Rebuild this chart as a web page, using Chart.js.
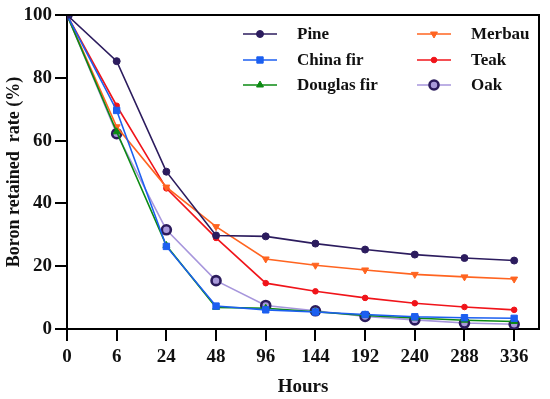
<!DOCTYPE html>
<html>
<head>
<meta charset="utf-8">
<script src="https://cdn.jsdelivr.net/npm/chart.js@4"></script>
<style>
  html, body { margin: 0; padding: 0; background: #fff; }
  #wrap { width: 550px; height: 399px; }
</style>
</head>
<body>
<div id="wrap"><canvas id="chart"></canvas></div>
<script>
// x categories (hours) and retained boron (%) per wood species
const hours      = ['0', '6', '24', '48', '96', '144', '192', '240', '288', '336'];
const pine       = [100, 85.3, 50.1, 29.8, 29.5, 27.2, 25.3, 23.7, 22.6, 21.8];
const chinaFir   = [100, 69.6, 26.3, 7.3, 6.1, 5.4, 4.6, 3.9, 3.6, 3.4];
const douglasFir = [100, 62.8, 26.6, 6.9, 6.6, 5.5, 4.3, 3.5, 2.8, 2.4];
const merbau     = [100, 64.4, 45.2, 32.6, 22.3, 20.3, 18.8, 17.4, 16.6, 15.9];
const teak       = [100, 71.1, 44.8, 29.0, 14.6, 12.0, 9.9, 8.2, 7.0, 6.1];
const oak        = [100, 62.2, 31.6, 15.4, 7.5, 5.8, 4.0, 2.9, 1.9, 1.5];
const yTicks     = [0, 20, 40, 60, 80, 100];

const FONT = "'Liberation Serif', 'Times New Roman', serif";
const TICK_LEN = 12;

const toXY = arr => arr.map((v, i) => ({ x: i, y: v }));

function series(label, data, color, opts) {
  return Object.assign({
    label,
    data: toXY(data),
    borderColor: color,
    backgroundColor: color,
    pointBorderColor: color,
    pointBackgroundColor: color,
    borderWidth: 1.6,
    pointRadius: 3.5,
    pointBorderWidth: 1,
    pointStyle: 'circle',
    pointRotation: 0,
    tension: 0
  }, opts || {});
}

const datasets = [
  series('Pine', pine, '#2c1c5e', { pointRadius: 3.5 }),
  series('China fir', chinaFir, '#1c5ff0', { pointStyle: 'rect', pointRadius: 4.5 }),
  series('Douglas fir', douglasFir, '#0b8a12', { pointStyle: 'triangle', pointRadius: 4 }),
  series('Merbau', merbau, '#ff6420', { pointStyle: 'triangle', pointRotation: 180, pointRadius: 4 }),
  series('Teak', teak, '#f0141a', { pointRadius: 2.8 }),
  series('Oak', oak, '#a796dc', {
    pointRadius: 4.5, pointBorderWidth: 2.6,
    pointBorderColor: '#2b1b5c', pointBackgroundColor: '#a99ada'
  })
];

/* --------- frame: top + right border, outward tick marks --------- */
const framePlugin = {
  id: 'frame',
  afterDraw(chart) {
    const { ctx, chartArea: a } = chart;
    const xs = chart.scales.x, ys = chart.scales.y;
    ctx.save();
    ctx.strokeStyle = '#000';
    ctx.lineWidth = 2;
    ctx.beginPath();
    ctx.moveTo(a.left, a.top);
    ctx.lineTo(a.right, a.top);
    ctx.lineTo(a.right, a.bottom);
    ctx.stroke();
    ctx.fillStyle = '#000';
    hours.forEach((h, i) => {
      const px = Math.round(xs.getPixelForValue(i));
      ctx.fillRect(px - 1, a.bottom, 2, TICK_LEN);
    });
    yTicks.forEach(v => {
      const py = Math.round(ys.getPixelForValue(v));
      ctx.fillRect(a.left - TICK_LEN, py - 1, TICK_LEN, 2);
    });
    ctx.restore();
  }
};

/* --------- two-column legend inside the plot --------- */
const legendPlugin = {
  id: 'colLegend',
  afterDraw(chart) {
    const ctx = chart.ctx;
    const cols = [{ x: 243, tx: 297 }, { x: 417, tx: 471 }];
    const rows = [34, 60, 85];
    ctx.save();
    chart.data.datasets.forEach((ds, i) => {
      const c = cols[Math.floor(i / 3)];
      const y = rows[i % 3];
      ctx.strokeStyle = ds.borderColor;
      ctx.lineWidth = ds.borderWidth;
      ctx.beginPath();
      ctx.moveTo(c.x, y);
      ctx.lineTo(c.x + 34, y);
      ctx.stroke();
      ctx.fillStyle = ds.pointBackgroundColor;
      ctx.strokeStyle = ds.pointBorderColor;
      ctx.lineWidth = ds.pointBorderWidth;
      Chart.helpers.drawPoint(ctx, {
        pointStyle: ds.pointStyle,
        rotation: ds.pointRotation,
        radius: ds.pointRadius,
        borderWidth: ds.pointBorderWidth
      }, c.x + 17, y);
      ctx.fillStyle = '#111';
      ctx.font = 'bold 17px ' + FONT;
      ctx.textBaseline = 'middle';
      ctx.textAlign = 'left';
      ctx.fillText(ds.label, c.tx, y + 1);
    });
    ctx.restore();
  }
};

const axisGrid = {
  drawOnChartArea: false, drawTicks: true, tickLength: TICK_LEN,
  color: '#000', tickColor: '#000', lineWidth: 2, tickWidth: 2
};

new Chart(document.getElementById('chart'), {
  type: 'line',
  data: { datasets },
  plugins: [framePlugin, legendPlugin],
  options: {
    responsive: true,
    maintainAspectRatio: false,
    animation: false,
    layout: { padding: { top: 15, right: 11, left: 0, bottom: 0 } },
    plugins: { legend: { display: false }, tooltip: { enabled: false } },
    scales: {
      x: {
        type: 'linear',
        min: 0,
        max: 9.5,
        grid: { ...axisGrid },
        border: { color: '#000', width: 2 },
        afterBuildTicks: s => { s.ticks = hours.map((h, i) => ({ value: i })); },
        afterFit: s => { s.height = 70; },
        ticks: {
          autoSkip: false,
          maxRotation: 0,
          padding: 5,
          color: '#111',
          font: { family: FONT, size: 19, weight: 'bold' },
          callback: v => hours[v]
        },
        title: {
          display: true, text: 'Hours', color: '#111',
          font: { family: FONT, size: 19, weight: 'bold' },
          padding: { top: 0, bottom: 1 }
        }
      },
      y: {
        min: 0,
        max: 100,
        grid: { ...axisGrid },
        border: { color: '#000', width: 2 },
        afterBuildTicks: s => { s.ticks = yTicks.map(v => ({ value: v })); },
        afterFit: s => { s.width = 67; },
        ticks: {
          padding: 3,
          color: '#111',
          font: { family: FONT, size: 19, weight: 'bold' }
        },
        title: {
          display: true, text: 'Boron retained  rate (%)', color: '#111',
          font: { family: FONT, size: 18, weight: 'bold' },
          padding: { top: 4, bottom: 0 }
        }
      }
    }
  }
});
</script>
</body>
</html>
